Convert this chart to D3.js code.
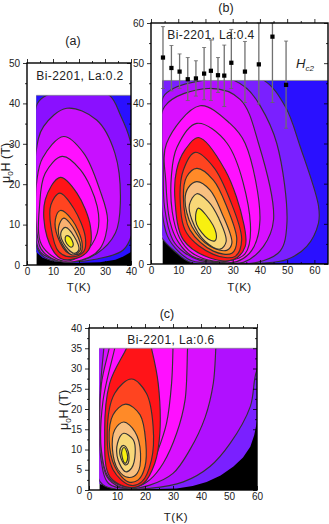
<!DOCTYPE html>
<html>
<head>
<meta charset="utf-8">
<script src="https://cdn.jsdelivr.net/npm/d3@7"></script>
<style>
  html, body { margin: 0; padding: 0; background: #fff; }
  svg { display: block; }
  text { font-family: "Liberation Sans", Arial, sans-serif; fill: #222; }
  .tick line, .domain { stroke: #000; }
</style>
</head>
<body>
<svg id="chart" width="329" height="524"></svg>
<script>
// contour lines, [ T(K), H(T) ], outermost first
var floor_a = [ [2,5],[3.5,3.2],[6,1.8],[10,0.9],[18,0.5],[28,0.7],[34,1.3],[37,2.1],[40,3.2],[44,6],[44,50],[0,50] ];
var contours_a = [
  [ [7.6,42],[20,44],[31.7,42],[36,37],[39.6,31],[42,20],[41,9],[37,3.7],[27,1.5],[17,0.8],[8,1.4],[4,4],[2.5,20],[2.5,32],[4,40] ],
  [ [15.3,38.8],[26.8,35.9],[33.8,27.7],[35.9,15.3],[34,7.9],[27,2.9],[16.7,0.8],[5.2,3.2],[3.2,11],[3.4,27.7],[6.4,34.3] ],
  [ [14.1,31.8],[21.8,27.7],[28,18.6],[31,11],[28,4],[21,1.2],[12,1],[5.4,4],[3.4,12],[3.8,21],[6,26.5] ],
  [ [13.5,26.9],[20.5,23.6],[27,14.5],[27,7.9],[21.8,2.9],[14,1],[5.6,5],[4.9,15.3],[7,22.7] ],
  [ [12.8,21.7],[19.2,17.8],[24.4,9.5],[23.7,3.7],[19.2,1.7],[12.8,1.7],[7.7,7],[7,16.1] ],
  [ [12.6,17.8],[18,14],[22.4,7],[21.8,3.3],[17.3,2],[12.2,3.3],[9.2,9.5],[9.2,14.9] ],
  [ [12.8,13.5],[17.3,11.2],[21.2,5.4],[20.5,2.9],[16,2.9],[11.8,7],[10.9,11.2] ],
  [ [14.1,11.6],[18.6,8.3],[20.5,3.7],[17.3,2.5],[12.8,6.2],[12.2,9.5] ],
  [ [14.7,9.3],[18.2,7],[19.9,3.7],[18,2.9],[14.1,5.4],[13,7.9] ],
  [ [15,7.2],[16.4,7],[17.8,5],[17,4.4],[15.4,5.2],[14.7,6.2] ]
];
var colors_a = [ "#8a10ff", "#c810ff", "#ff10ff", "#ff10ff", "#ff1418", "#ff4420", "#ff8a28", "#f8b070", "#f8d878", "#f8f010" ];

var floor_b = [ [2,8.5],[3.9,7.3],[7,4.8],[10,2.6],[15,0.3],[30,0.1],[70,0.1],[70,50],[2,50] ];
var contours_b = [
  [ [41.3,45.8],[49.3,39.2],[54.8,29.2],[61.5,14.5],[61.5,10.2],[57.2,4.4],[49.9,1.1],[41,0.2],[15,0.3],[9,3],[3,7.8],[1,30],[3,48],[25,48] ],
  [ [29,46],[35.2,43.7],[40,39.5],[46.2,30],[49.9,10],[47.4,3.2],[39,0.4],[25,0.2],[15,0.8],[10,3.2],[6,7],[3.8,15],[4.2,35],[4.5,41.6],[8.2,43.7],[19,45.7] ],
  [ [21,43.7],[32.7,41],[39.5,30],[45,11],[41.3,4.4],[33.9,0.4],[26,0.3],[18,0.9],[12,3],[8,6],[5,14],[4.5,25],[5,39.2] ],
  [ [18,39.4],[29,35],[34.6,30],[40,10.8],[37,3.4],[31.5,0.6],[24,0.5],[15,2],[10,5.5],[7,10.5],[5.5,20],[5.7,30] ],
  [ [16.8,35],[28,30],[36.5,10],[34.5,2.5],[28,0.7],[23,0.7],[15,2.8],[10.5,6.5],[7.8,13],[7.5,22],[9.5,29] ],
  [ [17.4,31.5],[27.2,23.4],[34,10.2],[34.6,4.4],[30.3,1.1],[21.7,1.5],[11.9,6],[8.8,16],[9.4,23.4],[12.5,28.4] ],
  [ [16.2,27.8],[22.9,24.2],[29,16],[33.3,6],[30.9,1.9],[22.9,2.4],[13.1,7.7],[10.7,16],[11.9,23.4] ],
  [ [16.8,23.8],[22.9,20.9],[27.8,14.3],[31.5,6],[29.7,2.7],[22.9,3.2],[14.3,8.5],[11.9,16.7],[13.1,21.7] ],
  [ [16.8,20.5],[21.7,18.4],[26,12.7],[29.7,5.2],[27.8,3.4],[21.7,4.4],[15,9.4],[12.5,16],[13.7,19] ],
  [ [16.8,17.5],[21,15.6],[24.8,11.5],[27.6,5.6],[25.4,3.7],[19.9,5.6],[15,11],[14.1,14.7] ],
  [ [17.4,13.9],[20.2,12.2],[23.9,7.7],[23.5,5.8],[21,6.2],[16.8,9.8],[16.4,12.2] ]
];
var colors_b = [ "#7a20ff", "#b010ff", "#d810ff", "#ff10ff", "#ff10ff", "#ff1418", "#ff4420", "#ff8a28", "#f8c080", "#f8d878", "#f8f010" ];

var floor_c = [ [2,2],[3.8,1.5],[8,0.6],[20,0.2],[31.3,0.4],[37,1],[42,2],[47,3.6],[51.6,5.8],[55,8],[57.6,10.7],[59,13.5],[60,16.9],[64,30],[64,42],[2,42] ];
var contours_c = [
  [ [70,45],[66,36],[60,29.7],[57.6,20.6],[50.4,11.5],[43.2,5.8],[33.7,2],[21.7,0.4],[9,0.3],[4,2],[2,15],[2,38],[10,48],[40,50] ],
  [ [45.5,37],[45.3,35],[44.4,26.4],[41.5,18],[36,9.9],[30,4.1],[21.7,1.2],[14,0.3],[7,1.6],[4.2,8],[3.8,22],[5.3,35],[5.6,37],[25,42] ],
  [ [35.4,37],[35.2,35],[34.3,22.2],[31.3,14],[26.5,6.6],[21.7,2.5],[17,0.8],[11,0.8],[6.4,3.3],[4.2,12],[4.4,26],[7.2,35],[7.6,37],[20,41] ],
  [ [30.1,37],[30,35],[29.5,26.4],[27.7,16.5],[24.7,9.9],[21.1,4.1],[16.2,1],[12.2,0.9],[6.8,3.3],[4.4,9.9],[5,22],[9.2,35],[9.8,37],[20,41] ],
  [ [21.5,37],[22.3,35],[24.7,26.4],[25.3,14],[23.5,6.6],[19.4,1.6],[14.6,0.6],[7.4,3.3],[5.6,14],[7.4,26.4],[13.4,35],[14.5,37],[18,40] ],
  [ [15.2,27.4],[20.5,23.9],[22.9,15.7],[22.3,7.4],[18.8,2],[14.6,1.2],[8.6,5],[6.5,14],[9.2,23.9] ],
  [ [13.1,21.2],[18.2,18.6],[20.3,11.6],[20,5.8],[17.6,2.5],[14,2],[9.2,5.8],[7.2,12.4],[8.6,18.6] ],
  [ [12.4,16.8],[16.4,14.4],[18.4,9.1],[17.2,4.1],[14,3.1],[10.4,5],[8.4,9.9],[9.2,14.9] ],
  [ [12.4,14],[15.8,12.4],[16.5,9.1],[15.2,5.4],[13.1,4.5],[10.4,7.4],[10.2,11.6] ],
  [ [12.4,11],[14,9.5],[14,6.6],[12.9,6.2],[11.2,8.3],[11.2,10.3] ],
  [ [12.5,10.5],[13.6,9.1],[13.7,7.4],[12.9,6.6],[11.8,8.3],[11.8,9.9] ]
];
var colors_c = [ "#b010ff", "#d810ff", "#ff10ff", "#ff10ff", "#ff1418", "#ff4420", "#ff8a28", "#f8c080", "#f8d878", "#f8d878", "#f8f010" ];

// Hc2 points of panel b
var hc2_t    = [ 4.4, 7.5, 10.5, 13.5, 16.5, 19.5, 22, 24.6, 26.9, 29.5, 34.5, 39.6, 44.6, 49.6 ];
var hc2_h    = [ 51.4, 48.8, 47.9, 46, 46.2, 47.4, 48.1, 47, 46.9, 50.1, 47.9, 49.7, 56.6, 44.6 ];
var hc2_high = [ 59.1, 54.4, 52.3, 51.4, 50.6, 53.9, 55.8, 51.4, 54.5, 58.4, 55.4, 60, 60, 55.5 ];
var hc2_low  = [ 43.7, 43.1, 43.7, 40.7, 41.8, 40.9, 40.7, 42.7, 39.2, 43.7, 40.2, 39.8, 40.2, 33.8 ];

var svg = d3.select( "#chart" );

var drawPanel = function( p ){
  var x = d3.scaleLinear().domain( p.x_domain ).range( [ p.left, p.right ] );
  var y = d3.scaleLinear().domain( p.y_domain ).range( [ p.bottom, p.top ] );
  var g = svg.append( "g" );

  var clip_id = "clip-" + p.name;
  g.append( "clipPath" ).attr( "id", clip_id )
    .append( "rect" )
    .attr( "x", x( p.t_min ) )
    .attr( "y", y( p.h_max ) )
    .attr( "width", x( p.x_domain[ 1 ] ) - x( p.t_min ) )
    .attr( "height", y( 0 ) - y( p.h_max ) );

  var map = g.append( "g" ).attr( "clip-path", "url(#" + clip_id + ")" );

  map.append( "rect" )
    .attr( "x", x( p.t_min ) )
    .attr( "y", y( p.h_max ) )
    .attr( "width", x( p.x_domain[ 1 ] ) - x( p.t_min ) )
    .attr( "height", y( 0 ) - y( p.h_max ) )
    .attr( "fill", "#000" );

  var line = d3.line()
    .x( function( d ){ return x( d[ 0 ] ); } )
    .y( function( d ){ return y( d[ 1 ] ); } );

  map.append( "path" )
    .attr( "d", line.curve( d3.curveLinear )( p.floor ) + "Z" )
    .attr( "fill", p.floor_color );

  line.curve( d3.curveCatmullRomClosed.alpha( 0.5 ) );

  map.selectAll( "path.level" )
    .data( p.contours )
    .enter()
    .append( "path" )
    .classed( "level", true )
    .attr( "d", line )
    .attr( "fill", function( d, i ){ return p.colors[ i ]; } )
    .attr( "stroke", "#333" )
    .attr( "stroke-width", 1.15 );

  // top edge of the measured area
  g.append( "line" )
    .attr( "x1", x( p.t_min ) ).attr( "x2", x( p.x_domain[ 1 ] ) )
    .attr( "y1", y( p.h_max ) ).attr( "y2", y( p.h_max ) )
    .attr( "stroke", "#999" ).attr( "stroke-width", 0.8 );

  if( p.after_map ) p.after_map( g, x, y );

  // axes: minor ticks first, then the labelled ones, all pointing inwards
  var addAxis = function( axis, scale, values, size, labels, translate ){
    var a = axis( scale ).tickValues( values ).tickSize( -size ).tickPadding( 3 );
    a.tickFormat( labels ? d3.format( "d" ) : "" );
    var ag = g.append( "g" ).attr( "transform", translate ).call( a );
    ag.selectAll( "text" ).style( "font-size", "10px" );
    ag.selectAll( ".tick line" ).attr( "stroke-width", 0.8 );
    ag.select( ".domain" ).remove();
  };

  var x_bottom = "translate(0," + p.bottom + ")";
  var x_top = "translate(0," + p.top + ")";
  var y_left = "translate(" + p.left + ",0)";
  var y_right = "translate(" + p.right + ",0)";

  addAxis( d3.axisBottom, x, p.x_minor, 2, false, x_bottom );
  addAxis( d3.axisTop, x, p.x_minor, -2, false, x_top );
  addAxis( d3.axisLeft, y, p.y_minor, -2, false, y_left );
  addAxis( d3.axisRight, y, p.y_minor, 2, false, y_right );
  addAxis( d3.axisBottom, x, p.x_major, 4, true, x_bottom );
  addAxis( d3.axisTop, x, p.x_major, -4, false, x_top );
  addAxis( d3.axisLeft, y, p.y_major, -4, true, y_left );
  addAxis( d3.axisRight, y, p.y_major, 4, false, y_right );

  g.append( "rect" )
    .attr( "x", p.left ).attr( "y", p.top )
    .attr( "width", p.right - p.left ).attr( "height", p.bottom - p.top )
    .attr( "fill", "none" ).attr( "stroke", "#000" ).attr( "stroke-width", 1.4 );

  g.append( "text" )
    .attr( "x", p.title_x ).attr( "y", p.title_y )
    .attr( "text-anchor", "middle" )
    .style( "font-size", "12px" ).style( "letter-spacing", "0.4px" )
    .text( p.title );

  g.append( "text" )
    .attr( "x", p.tag_x ).attr( "y", p.tag_y )
    .attr( "text-anchor", "middle" )
    .style( "font-size", "12.5px" )
    .text( p.tag );

  g.append( "text" )
    .attr( "x", ( p.left + p.right ) / 2 + p.xlabel_dx ).attr( "y", p.xlabel_y )
    .attr( "text-anchor", "middle" )
    .style( "font-size", "11.5px" ).style( "letter-spacing", "0.5px" )
    .text( "T(K)" );

  if( p.ylabel_x ){
    var yl = g.append( "text" )
      .attr( "transform", "translate(" + p.ylabel_x + "," + p.ylabel_y + ") rotate(-90)" )
      .attr( "text-anchor", "middle" )
      .style( "font-size", "12.5px" );
    yl.append( "tspan" ).text( "\u03bc" );
    yl.append( "tspan" ).attr( "dy", 3 ).style( "font-size", "8px" ).text( "0" );
    yl.append( "tspan" ).attr( "dy", -3 ).text( "H (T)" );
  }
};

var drawHc2 = function( g, x, y ){
  var pts = g.append( "g" );

  pts.selectAll( "line.bar" )
    .data( hc2_t )
    .enter()
    .append( "line" )
    .classed( "bar", true )
    .attr( "x1", function( d ){ return x( d ); } )
    .attr( "x2", function( d ){ return x( d ); } )
    .attr( "y1", function( d, i ){ return y( hc2_low[ i ] ); } )
    .attr( "y2", function( d, i ){ return y( hc2_high[ i ] ); } )
    .attr( "stroke", "#707070" ).attr( "stroke-width", 1.3 );

  [ hc2_low, hc2_high ].forEach( function( ends ){
    pts.selectAll( null )
      .data( hc2_t )
      .enter()
      .append( "line" )
      .attr( "x1", function( d ){ return x( d ) - 2; } )
      .attr( "x2", function( d ){ return x( d ) + 2; } )
      .attr( "y1", function( d, i ){ return y( ends[ i ] ); } )
      .attr( "y2", function( d, i ){ return y( ends[ i ] ); } )
      .attr( "stroke", "#666" ).attr( "stroke-width", 0.8 );
  } );

  pts.selectAll( "path.point" )
    .data( hc2_t )
    .enter()
    .append( "path" )
    .classed( "point", true )
    .attr( "d", d3.symbol( d3.symbolSquare, 18 ) )
    .attr( "transform", function( d, i ){ return "translate(" + x( d ) + "," + y( hc2_h[ i ] ) + ")"; } )
    .attr( "fill", "#000" );

  var hc = g.append( "text" )
    .attr( "x", 296 ).attr( "y", 68 )
    .style( "font-size", "13px" ).style( "font-style", "italic" );
  hc.append( "tspan" ).text( "H" );
  hc.append( "tspan" ).attr( "dy", 3 ).style( "font-size", "8px" ).text( "c2" );
};

drawPanel( {
  name: "a", left: 27, right: 131, top: 63, bottom: 265,
  x_domain: [ 0, 40 ], y_domain: [ 0, 50 ], t_min: 3.6, h_max: 42,
  x_major: [ 0, 10, 20, 30, 40 ], x_minor: [ 5, 15, 25, 35 ],
  y_major: [ 0, 10, 20, 30, 40, 50 ], y_minor: [ 5, 15, 25, 35, 45 ],
  floor: floor_a, floor_color: "#2a10ff", contours: contours_a, colors: colors_a,
  title: "Bi-2201, La:0.2", title_x: 80, title_y: 80,
  tag: "(a)", tag_x: 73, tag_y: 45, xlabel_dx: 0, xlabel_y: 291,
  ylabel_x: 10, ylabel_y: 163
} );

drawPanel( {
  name: "b", left: 151, right: 328, top: 23, bottom: 264,
  x_domain: [ 0, 65 ], y_domain: [ 0, 60 ], t_min: 4.2, h_max: 45.7,
  x_major: [ 0, 10, 20, 30, 40, 50, 60 ], x_minor: [ 5, 15, 25, 35, 45, 55 ],
  y_major: [ 0, 10, 20, 30, 40, 50, 60 ], y_minor: [ 5, 15, 25, 35, 45, 55 ],
  floor: floor_b, floor_color: "#2a10ff", contours: contours_b, colors: colors_b,
  title: "Bi-2201, La:0.4", title_x: 211, title_y: 39,
  tag: "(b)", tag_x: 226, tag_y: 12, xlabel_dx: 0, xlabel_y: 291,
  after_map: drawHc2
} );

drawPanel( {
  name: "c", left: 89, right: 257, top: 328, bottom: 490,
  x_domain: [ 0, 60 ], y_domain: [ 0, 40 ], t_min: 3.7, h_max: 35,
  x_major: [ 0, 10, 20, 30, 40, 50, 60 ], x_minor: [ 5, 15, 25, 35, 45, 55 ],
  y_major: [ 0, 5, 10, 15, 20, 25, 30, 35, 40 ], y_minor: [ 2.5, 7.5, 12.5, 17.5, 22.5, 27.5, 32.5, 37.5 ],
  floor: floor_c, floor_color: "#7a20ff", contours: contours_c, colors: colors_c,
  title: "Bi-2201, La:0.6", title_x: 171, title_y: 344,
  tag: "(c)", tag_x: 167, tag_y: 318, xlabel_dx: 3, xlabel_y: 521,
  ylabel_x: 68, ylabel_y: 410
} );
</script>
</body>
</html>
